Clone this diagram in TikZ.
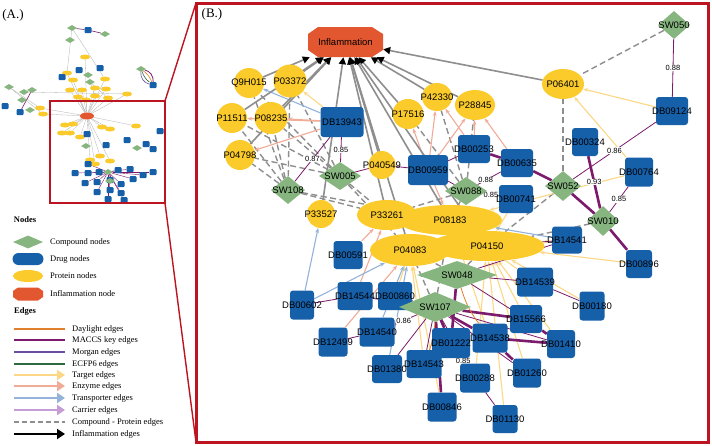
\documentclass[tikz,border=0pt]{standalone}
\usepackage{fontspec}
\setmainfont{Liberation Serif}
\newfontfamily\arialfont{Liberation Sans}
\usetikzlibrary{arrows.meta,shapes.geometric}

\definecolor{compcol}{HTML}{86B57F}
\definecolor{drugcol}{HTML}{1660AA}
\definecolor{protcol}{HTML}{FBCB2C}
\definecolor{inflcol}{HTML}{E2572F}
\definecolor{framecol}{HTML}{BC1420}
\definecolor{daycol}{HTML}{E0802C}
\definecolor{macccol}{HTML}{7C1A6C}
\definecolor{morgcol}{HTML}{6B4E9E}
\definecolor{ecfpcol}{HTML}{2E6A3E}
\definecolor{targcol}{HTML}{FCD886}
\definecolor{enzcol}{HTML}{F1AC98}
\definecolor{trancol}{HTML}{93B3DA}
\definecolor{carcol}{HTML}{C49CD6}
\definecolor{cpcol}{HTML}{8E8E8E}

\pgfdeclarelayer{bg}
\pgfdeclarelayer{edges}
\pgfsetlayers{bg,edges,main}

\tikzset{
  protein/.style={ellipse, fill=protcol, inner sep=0pt},
  drug/.style={rectangle, rounded corners=3pt, fill=drugcol, inner sep=0pt},
  compound/.style={diamond, fill=compcol, inner sep=0pt},
  lbl/.style={font=\arialfont\fontsize{9.5}{10}\selectfont, text=black, inner sep=0pt},
  wlbl/.style={font=\arialfont\fontsize{7.5}{8}\selectfont, text=black, fill=white, inner sep=0.5pt},
  legtext/.style={font=\fontsize{8.5}{9}\selectfont, anchor=west, inner sep=0pt},
  inflow/.style={cpcol, line width=1.6pt, -{Triangle[black, length=7pt, width=7pt]}},
  cpedge/.style={cpcol, line width=1.4pt, dash pattern=on 6pt off 3.5pt},
  target/.style={targcol, line width=1.1pt, -{Stealth[length=5pt]}},
  enzyme/.style={enzcol, line width=1.1pt, -{Stealth[length=5pt]}},
  transp/.style={trancol, line width=1.1pt, -{Stealth[length=5pt]}},
  maccs/.style={macccol, line width=0.8pt},
  maccsthick/.style={macccol, line width=2.6pt},
  thin/.style={cpcol!70, line width=0.3pt},
}

\begin{document}
\begin{tikzpicture}[x=1pt, y=-1pt]

\useasboundingbox (0,0) rectangle (712,445);
\begin{pgfonlayer}{bg}
\fill[white] (0,0) rectangle (712,445);
\end{pgfonlayer}

% panel titles
\node[font=\fontsize{13}{14}\selectfont] (titleA) at (13,15) {(A.)};
\node[font=\fontsize{13}{14}\selectfont] (titleB) at (212,14) {(B.)};

% ---------------- panel A: overview ----------------
\foreach \x/\y [count=\i] in {85/57, 67/73, 105/79, 73/80, 70/90, 82/90, 95/88, 106/89, 78/97, 95/96, 86/100, 108/98, 40/108, 43/114, 127/94, 65/125, 73/124, 62/133, 70/133, 80/137, 102/127, 110/129, 136/126, 100/156, 90/160, 110/161, 95/164}
    \node[protein, minimum width=10pt, minimum height=5pt] (tp\i) at (\x,\y) {};
\foreach \x/\y [count=\i] in {88/30, 79/70, 100/68, 62/77, 153/85, 5/106, 20/112, 87/134, 106/145, 127/140, 146/144, 153/149, 160/131, 88/164, 75/173, 88/173, 99/172, 118/170, 130/169, 143/175, 153/172, 85/183, 97/182, 110/180, 121/184, 133/179, 97/192, 110/190, 121/193, 108/199, 124/200}
    \node[drug, rounded corners=1pt, minimum width=7pt, minimum height=6pt] (td\i) at (\x,\y) {};
\foreach \x/\y [count=\i] in {72/28, 105/34, 70/40, 88/75, 90/82, 141/69, 9/87, 24/92, 32/90, 22/100, 30/110, 86/146, 137/148, 108/172, 110/181}
    \node[compound, minimum width=10pt, minimum height=6pt] (tc\i) at (\x,\y) {};
\node[ellipse, fill=inflcol, minimum width=14pt, minimum height=7pt, inner sep=0pt] (tinf) at (87,116) {};

\begin{pgfonlayer}{edges}
\foreach \i in {1,...,27} \draw[thin] (tp\i) -- (tinf);
\foreach \i/\j in {1/2, 1/3, 7/13, 7/14, 8/15, 4/10, 5/12} \draw[thin] (tc\i) -- (tp\j);
\draw[macccol, line width=0.6pt] (tc1) -- (td1);
\draw[macccol, line width=0.6pt] (td1) -- (tc2);
\draw[macccol, line width=0.6pt] (tc9) -- (td7);
\draw[macccol, line width=0.8pt] (tc6) to[bend left=40] (td5);
\draw[daycol, line width=0.6pt] (tc6) to[bend left=15] (td5);
\draw[ecfpcol, line width=0.6pt] (tc6) to[bend right=15] (td5);
\draw[morgcol, line width=0.6pt] (tc6) to[bend right=40] (td5);
\foreach \i in {14,...,31} \draw[macccol, line width=0.4pt] (tc14) -- (td\i);
\end{pgfonlayer}

% zoom box and its guide lines
\coordinate (boxtl) at (50,101);
\coordinate (boxbr) at (165,203);
\coordinate (boxtr) at (165,101);
\coordinate (boxbrr) at (165,203);
\coordinate (frametl) at (196,3);
\coordinate (framebl) at (196,442);
\draw[framecol, line width=2pt] (boxtl) rectangle (boxbr);
\draw[framecol, line width=1.4pt] (boxtr) -- (frametl);
\draw[framecol, line width=1.4pt] (boxbrr) -- (framebl);

% ---------------- legend ----------------
\node[font=\bfseries\fontsize{8.5}{9}\selectfont] (legnodes) at (25,220) {Nodes};
\node[compound, minimum width=30pt, minimum height=13pt] (legcomp) at (28,242) {};
\node[drug, rounded corners=6pt, minimum width=31pt, minimum height=12pt] (legdrug) at (28,259) {};
\node[protein, minimum width=30pt, minimum height=12pt] (legprot) at (28,276) {};
\fill[inflcol] (13,291) -- (18,287.5) -- (38,287.5) -- (43,291) -- (43,297) -- (38,300.5) -- (18,300.5) -- (13,297) -- cycle;
\node[legtext] at (50,242) {Compound nodes};
\node[legtext] at (50,259) {Drug nodes};
\node[legtext] at (50,276) {Protein nodes};
\node[legtext] at (50,294) {Inflammation node};

\node[font=\bfseries\fontsize{8.5}{9}\selectfont] (legedges) at (25,311) {Edges};
\foreach \y/\col/\txt in {329/daycol/Daylight edges, 340/macccol/MACCS key edges, 352/morgcol/Morgan edges, 364/ecfpcol/ECFP6 edges} {
    \draw[\col, line width=2.4pt] (14,\y) -- (65,\y);
    \node[legtext] at (72,\y) {\txt};
}
\foreach \y/\col/\txt in {375/targcol/Target edges, 386/enzcol/Enzyme edges, 398/trancol/Transporter edges, 410/carcol/Carrier edges} {
    \draw[\col, line width=2.4pt, -{Triangle[length=8pt, width=10pt]}] (14,\y) -- (65,\y);
    \node[legtext] at (72,\y) {\txt};
}
\draw[cpcol, line width=2.4pt, dash pattern=on 5pt off 3pt] (14,422) -- (65,422);
\node[legtext] at (72,422) {Compound - Protein edges};
\draw[black, line width=2.4pt, -{Triangle[length=8pt, width=10pt]}] (14,434) -- (65,434);
\node[legtext] at (72,434) {Inflammation edges};

% ---------------- panel B ----------------
\draw[framecol, line width=3pt] (frametl) rectangle (708,442);

% inflammation node
\fill[inflcol] (308,34) -- (318,27) -- (372,27) -- (383,34) -- (383,50) -- (372,57) -- (318,57) -- (308,50) -- cycle;
\node[lbl, minimum width=75pt, minimum height=30pt] (INF) at (345.5,42) {Inflammation};

% protein nodes
\foreach \n/\x/\y/\w/\h in {Q9H015/249/83/30/30, P03372/290/81/33/33, P11511/232/118/30/30, P08235/271/118/33/32, P04798/240/155/30/30, P17516/408/114/31/30, P42330/437/97/30/28, P28845/475/105/40/30, P06401/563/84/42/30, P040549/382/165/27/28, P33527/321/214/28/28, P08183/450/220/104/30, P04150/487/246/115/30, P33261/387/215/60/30, P04083/410/250/80/32}
    \node[protein, minimum width=\w pt, minimum height=\h pt, label={[lbl]center:\n}] (\n) at (\x,\y) {};

% drug nodes
\foreach \n/\x/\y/\w/\h in {DB13943/342/122/43/30, DB09124/672/111/32/28, DB00324/585/142/26/28, DB00764/639/172/28/29, DB00896/639/264/26/28, DB14541/567/240/30/27, DB00741/516/199/34/28, DB00635/517/163/32/28, DB00253/474/149/32/28, DB00959/428/170/40/30, DB00591/348/255/29/28, DB14544/355/296/35/28, DB00860/395/296/34/28, DB00602/302/305/24/29, DB12499/333/342/29/29, DB14540/377/332/35/29, DB01380/387/369/30/28, DB14543/424/364/35/28, DB00846/442/407/29/29, DB01222/451/343/38/30, DB14538/490/338/35/29, DB00288/475/378/30/29, DB01130/505/419/25/28, DB01260/527/373/28/29, DB01410/561/344/28/28, DB15566/526/319/32/28, DB14539/535/282/36/29, DB00180/592/306/25/29}
    \node[drug, minimum width=\w pt, minimum height=\h pt, label={[lbl]center:\n}] (\n) at (\x,\y) {};

% compound nodes
\foreach \n/\x/\y/\w/\h in {SW050/674/25/32/28, SW052/563/186/36/30, SW010/603/221/32/30, SW088/466/191/42/28, SW005/340/176/42/28, SW108/288/190/34/28, SW048/457/275/80/28, SW107/435/307/72/30}
    \node[compound, minimum width=\w pt, minimum height=\h pt, label={[lbl]center:\n}] (\n) at (\x,\y) {};

\begin{pgfonlayer}{edges}
% compound - protein edges
\foreach \a/\b in {SW050/P06401, SW052/P06401, SW108/Q9H015, SW108/P03372, SW108/P11511, SW108/P08235, SW108/P04798, SW108/P33261, SW108/P08183, SW005/Q9H015, SW005/P03372, SW005/P08235, SW005/P11511, SW005/P04798, SW005/P33261, SW005/P04083, SW088/P17516, SW088/P42330, SW088/P28845, SW088/P08183, SW088/P33261, SW052/P04150, SW048/P04150, SW048/P04083, SW107/P04083, SW107/P08183, SW010/P04150}
    \draw[cpedge] (\a) -- (\b);

% drug - protein edges
\foreach \a/\b in {DB09124/P06401, DB00764/P06401, DB13943/P03372, DB00896/P04150, DB00764/P08183, DB14541/P04150, DB00180/P04150, DB01130/P04150, DB01260/P04150, DB14539/P08183, DB00846/P04083, DB00288/P04150, DB14543/P04083, DB14538/P08183, DB15566/P04150, DB00741/P04150, DB01410/P04150, DB00860/P04083}
    \draw[target] (\a) -- (\b);
\foreach \a/\b in {DB13943/P11511, DB13943/P08235, DB13943/P04798, DB00959/P17516, DB00959/P42330, DB00959/P28845, DB00253/P28845, DB00253/P42330, DB00635/P28845, DB00591/P33261, DB14544/P33261, DB12499/P04083, DB00959/P08183}
    \draw[enzyme] (\a) -- (\b);
\foreach \a/\b in {DB13943/Q9H015, DB00602/P33527, DB00602/P04083, DB14541/P08183, DB14540/P04083, DB01380/P04083}
    \draw[transp] (\a) -- (\b);

% inflammation edges
\foreach \p in {Q9H015, P03372, P11511, P08235, P04798, P17516, P42330, P28845, P06401, P040549, P33527, P33261, P08183, P04083, P04150}
    \draw[inflow] (\p) -- (INF);

% similarity edges
\draw[maccs] (SW050) -- node[wlbl] {0.88} (DB09124);
\draw[maccs] (SW052) -- node[wlbl] {0.86} (DB09124);
\draw[maccsthick] (DB00324) -- node[wlbl] {0.93} (SW010);
\draw[maccs] (DB00764) -- node[wlbl] {0.85} (SW010);
\draw[maccs] (DB13943) -- node[wlbl] {0.87} (SW108);
\draw[maccs] (DB13943) -- node[wlbl] {0.85} (SW005);
\draw[maccs] (SW088) -- node[wlbl, pos=0.35] {0.88} (DB00635);
\draw[maccs] (SW088) -- node[wlbl] {0.85} (DB00741);
\foreach \a/\b in {SW010/DB00896, DB00635/SW052, SW052/SW010, DB00253/DB00635, SW107/DB01222, SW107/DB14538, SW107/DB15566, SW107/DB00846, DB14538/DB01260, DB14538/DB01410, DB15566/DB01410, SW048/DB01222}
    \draw[maccsthick] (\a) -- (\b);
\foreach \a/\b in {SW088/DB00959, DB00959/DB00253, DB00959/P040549, SW005/P040549, DB00602/DB14544, DB12499/DB14540, SW107/DB14543, SW107/DB00288, SW107/DB01380, SW107/DB01410, SW107/DB01260, DB00288/DB01130, SW048/DB14539, DB14539/DB00180, SW048/DB14541, SW048/DB15566, SW107/DB00860, SW107/DB14544, DB14541/P04150}
    \draw[maccs] (\a) -- (\b);
\draw[maccs] (SW107) -- node[wlbl, pos=0.6] {0.86} (DB14540);
\draw[maccs] (DB01222) -- node[wlbl] {0.85} (DB00288);
\draw[daycol, line width=0.8pt] (SW107) to[bend left=10] (DB14543);
\draw[daycol, line width=0.8pt] (SW048) to[bend right=10] (DB14538);
\end{pgfonlayer}

\end{tikzpicture}
\end{document}
